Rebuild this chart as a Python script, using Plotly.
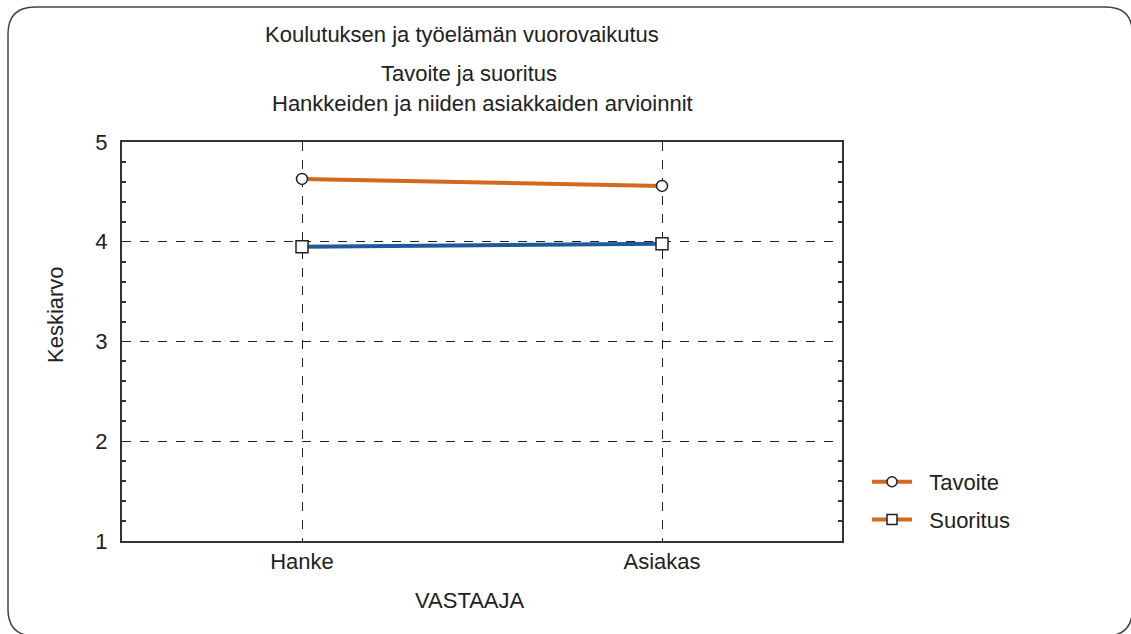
import plotly.graph_objects as go

# Respondent groups and mean scores
vastaaja = ["Hanke", "Asiakas"]
tavoite = [4.63, 4.56]
suoritus = [3.95, 3.98]

legend_names = ["Tavoite", "Suoritus"]

title_lines = [
    "Koulutuksen ja työelämän vuorovaikutus",
    "Tavoite ja suoritus",
    "Hankkeiden ja niiden asiakkaiden arvioinnit",
]

ORANGE = "#d2691e"
BLUE = "#1f5a9a"
FONT = "Liberation Sans, Arial, sans-serif"
FS = 22

W, H = 1131, 634
L, R, T, B = 122, 289, 142, 93
PW, PH = W - L - R, H - T - B


def px(x):
    return (x - L) / PW


def py(y):
    return (H - B - y) / PH


fig = go.Figure()

fig.add_trace(go.Scatter(
    x=vastaaja, y=tavoite, mode="lines+markers", name=legend_names[0],
    line=dict(color=ORANGE, width=4),
    marker=dict(symbol="circle", size=11, color="white",
                line=dict(color="#222", width=1.5)),
    showlegend=False,
))
fig.add_trace(go.Scatter(
    x=vastaaja, y=suoritus, mode="lines+markers", name=legend_names[1],
    line=dict(color=BLUE, width=4),
    marker=dict(symbol="square", size=12, color="white",
                line=dict(color="#222", width=1.5)),
    showlegend=False,
))

# Legend entries (both drawn with the orange line style)
for nm, sym in zip(legend_names, ["circle", "square"]):
    fig.add_trace(go.Scatter(
        x=[None], y=[None], mode="lines+markers", name="\u00a0\u00a0" + nm,
        line=dict(color=ORANGE, width=4),
        marker=dict(symbol=sym, size=10, color="white",
                    line=dict(color="#222", width=1.5)),
        legendgroup=nm,
    ))

# Rounded outer frame
x0, y0, x1, y1, r = 8, 7, 1132.5, 636, 27
path = (
    f"M {px(x0)},{py(y0 + r)} "
    f"Q {px(x0)},{py(y0)} {px(x0 + r)},{py(y0)} "
    f"L {px(x1 - r)},{py(y0)} "
    f"Q {px(x1)},{py(y0)} {px(x1)},{py(y0 + r)} "
    f"L {px(x1)},{py(y1 - r)} "
    f"Q {px(x1)},{py(y1)} {px(x1 - r)},{py(y1)} "
    f"L {px(x0 + r)},{py(y1)} "
    f"Q {px(x0)},{py(y1)} {px(x0)},{py(y1 - r)} Z"
)
fig.add_shape(type="path", path=path, xref="paper", yref="paper",
              line=dict(color="#444", width=1.5), layer="below")

# Title lines
for txt, cx, cy in zip(title_lines, [462, 469, 482], [34, 73, 104]):
    fig.add_annotation(text=txt, x=px(cx), y=py(cy), xref="paper", yref="paper",
                       showarrow=False, xanchor="center", yanchor="middle",
                       font=dict(size=FS, color="#222", family=FONT))

# Axis titles
fig.add_annotation(text="VASTAAJA", x=px(470), y=py(600), xref="paper", yref="paper",
                   showarrow=False, xanchor="center", yanchor="middle",
                   font=dict(size=FS, color="#222", family=FONT))
fig.add_annotation(text="Keskiarvo", x=px(55), y=py(315), xref="paper", yref="paper",
                   showarrow=False, textangle=-90, xanchor="center", yanchor="middle",
                   font=dict(size=FS, color="#222", family=FONT))

fig.update_xaxes(
    type="category", range=[-0.5, 1.5],
    showgrid=True, gridcolor="#222", griddash="dash", gridwidth=1,
    showline=True, linecolor="#333", linewidth=2, mirror=True,
    ticks="", tickfont=dict(size=FS, color="#222", family=FONT),
    zeroline=False,
)
fig.update_yaxes(
    range=[1, 5], dtick=1, tick0=1,
    showgrid=True, gridcolor="#222", griddash="dash", gridwidth=1,
    showline=True, linecolor="#333", linewidth=2, mirror="ticks",
    ticks="", ticklabelstandoff=8,
    tickfont=dict(size=FS, color="#222", family=FONT),
    minor=dict(ticks="inside", dtick=0.2, ticklen=4, tickcolor="#333",
               tickwidth=1.5, showgrid=False),
    zeroline=False,
)

fig.update_layout(
    width=W, height=H,
    margin=dict(l=L, r=R, t=T, b=B, autoexpand=False),
    paper_bgcolor="white", plot_bgcolor="white",
    font=dict(family=FONT, size=FS, color="#222"),
    legend=dict(x=px(867), y=py(461), xanchor="left", yanchor="top",
                bgcolor="rgba(0,0,0,0)", font=dict(size=FS, color="#222"),
                tracegroupgap=6, itemwidth=40),
)

fig.write_html("out.html")
